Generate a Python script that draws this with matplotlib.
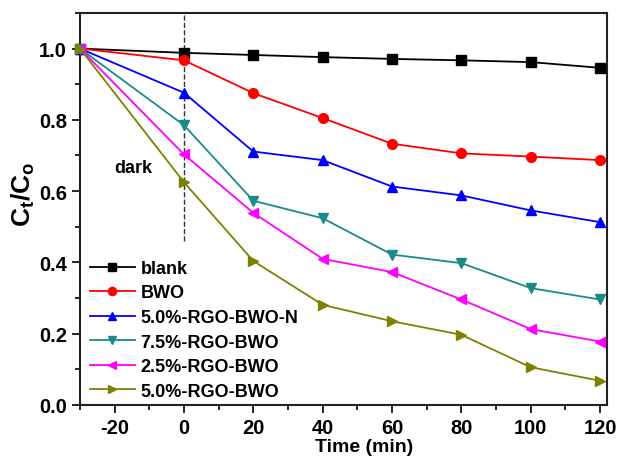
import matplotlib
matplotlib.use('Agg')
import matplotlib.pyplot as plt
from matplotlib.ticker import MultipleLocator

plt.rcParams['font.family'] = ['Liberation Sans', 'DejaVu Sans']
plt.rcParams['font.weight'] = 'bold'
plt.rcParams['mathtext.fontset'] = 'custom'
plt.rcParams['mathtext.rm'] = 'Liberation Sans:bold'
plt.rcParams['mathtext.bf'] = 'Liberation Sans:bold'
plt.rcParams['mathtext.it'] = 'Liberation Sans:bold'
plt.rcParams['axes.unicode_minus'] = False

# Degradation curves (C_t / C_0 versus irradiation time)
time_min = [-30, 0, 20, 40, 60, 80, 100, 120]

blank     = [1.0, 0.988, 0.982, 0.976, 0.971, 0.967, 0.962, 0.946]
bwo       = [1.0, 0.967, 0.875, 0.805, 0.733, 0.706, 0.697, 0.687]
rgo50_n   = [1.0, 0.876, 0.711, 0.687, 0.613, 0.588, 0.546, 0.513]
rgo75     = [1.0, 0.785, 0.573, 0.524, 0.422, 0.398, 0.328, 0.296]
rgo25     = [1.0, 0.703, 0.539, 0.410, 0.373, 0.296, 0.213, 0.178]
rgo50     = [1.0, 0.625, 0.404, 0.281, 0.235, 0.197, 0.106, 0.068]

labels = ['blank', 'BWO', '5.0%-RGO-BWO-N', '7.5%-RGO-BWO',
          '2.5%-RGO-BWO', '5.0%-RGO-BWO']
series = [blank, bwo, rgo50_n, rgo75, rgo25, rgo50]
colors = ['black', 'red', 'blue', '#1a8a8a', '#ff00ff', '#808000']
markers = ['s', 'o', '^', 'v', '<', '>']

fig = plt.figure(figsize=(6.18, 4.64), dpi=100)
ax = fig.add_axes([0.1294, 0.125, 0.8527, 0.845])

for ys, lab, c, m in zip(series, labels, colors, markers):
    ax.plot(time_min, ys, color=c, marker=m, markersize=7, lw=1.3,
            label=lab, clip_on=False, zorder=3)

# dark adsorption boundary
ax.plot([0, 0], [0.46, 1.1], ls='--', color='#333333', lw=1.0, zorder=2)
ax.text(-14.5, 0.665, 'dark', fontsize=13, fontweight='bold', ha='center',
        va='center')

ax.set_xlim(-30, 122)
ax.set_ylim(0.0, 1.1)
ax.set_xticks([-20, 0, 20, 40, 60, 80, 100, 120])
ax.xaxis.set_minor_locator(MultipleLocator(10))
ax.yaxis.set_major_locator(MultipleLocator(0.2))
ax.yaxis.set_minor_locator(MultipleLocator(0.1))
ax.yaxis.set_major_formatter(matplotlib.ticker.FormatStrFormatter('%.1f'))

ax.tick_params(which='both', direction='out', top=False, right=False,
               width=1.2)
ax.tick_params(which='major', length=6, labelsize=14.5)
ax.tick_params(which='minor', length=3.5)
for sp in ax.spines.values():
    sp.set_linewidth(1.5)
    sp.set_color('#222222')

ax.set_xlabel('Time (min)', fontsize=14, fontweight='bold')
ax.xaxis.set_label_coords(0.539, -0.085)
ax.set_ylabel(r'$\mathbf{C_t/C_o}$', fontsize=19)
ax.yaxis.set_label_coords(-0.082, 0.54)

leg = ax.legend(loc='lower left', frameon=False, fontsize=13,
                handlelength=2.5, handletextpad=0.3, labelspacing=0.42,
                markerscale=0.85, borderaxespad=0.0,
                bbox_to_anchor=(0.005, -0.005))

fig.savefig('out.png', dpi=100)
